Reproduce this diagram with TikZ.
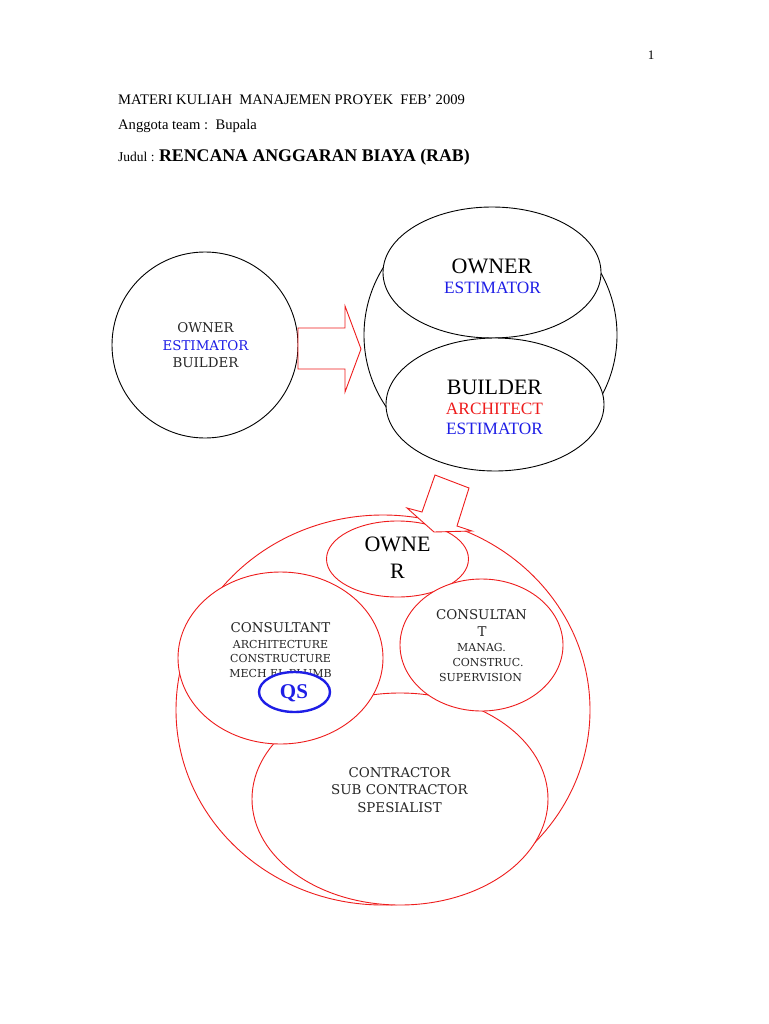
\documentclass[tikz,border=0pt]{standalone}
\usepackage{fontspec}
\setmainfont{Liberation Serif}
\newfontfamily\slab{DejaVu Serif}
\usetikzlibrary{shapes.geometric}
\definecolor{txtgray}{HTML}{262626}
\definecolor{myblue}{HTML}{1E1EE6}
\definecolor{myred}{HTML}{EE1C1C}
\begin{document}
\begin{tikzpicture}[x=1pt,y=-1pt,
  blk/.style={ellipse,draw=black,line width=0.9pt,fill=white,inner sep=0pt},
  blko/.style={ellipse,draw=black,line width=0.9pt,inner sep=0pt},
  rd/.style={ellipse,draw=myred,line width=0.9pt,fill=white,inner sep=0pt},
  rdo/.style={ellipse,draw=myred,line width=0.9pt,inner sep=0pt},
  qsell/.style={ellipse,draw=myblue,line width=2.4pt,fill=white,inner sep=0pt},
  blockarrow/.style={draw=myred,line width=0.9pt,fill=white,line join=miter},
  hdr/.style={anchor=base west,inner sep=0pt,font=\fontsize{14.6}{17}\selectfont},
  sl/.style={inner sep=0pt,anchor=center,text=txtgray,font=\slab\fontsize{13.4}{16}\selectfont},
  sls/.style={inner sep=0pt,anchor=center,text=txtgray,font=\slab\fontsize{11}{13}\selectfont},
  tbig/.style={inner sep=0pt,anchor=center,font=\fontsize{22}{26}\selectfont},
  tmid/.style={inner sep=0pt,anchor=center,font=\fontsize{17.3}{20}\selectfont}
]
\useasboundingbox[fill=white] (0,0) rectangle (768,1024);

% page number and header
\node[anchor=base,inner sep=0pt,font=\fontsize{13}{15}\selectfont] (pg) at (651,60) {1};
\node[hdr] (h1) at (118,105) {MATERI KULIAH~~MANAJEMEN PROYEK~~FEB’ 2009};
\node[hdr] (h2) at (118,129.5) {Anggota team~:~~Bupala};
\node[hdr,font=\fontsize{13.5}{16}\selectfont] (h3) at (118,161.5) {Judul : {\bfseries\fontsize{17.8}{20}\selectfont RENCANA ANGGARAN BIAYA (RAB)}};

% left circle
\node[blko,minimum width=186pt,minimum height=186pt] (c1) at (205,345) {};
\node[sl] (c1a) at (205.5,328) {OWNER};
\node[sl,text=myblue] (c1b) at (205.5,346) {ESTIMATOR};
\node[sl] (c1c) at (205.5,363) {BUILDER};

% right arrow
\draw[blockarrow] (298,328) -- (345,328) -- (345,306) -- (361,349) -- (345,392) -- (345,369) -- (298,369) -- cycle;

% top-right group
\node[blko,minimum width=253pt,minimum height=254pt] (g2) at (490.5,335) {};
\node[blk,minimum width=218pt,minimum height=131pt] (ow2) at (492,272.5) {};
\node[blk,minimum width=218pt,minimum height=133pt] (bu2) at (495,404.5) {};
\node[tbig] (ow2a) at (492,266) {OWNER};
\node[tmid,text=myblue] (ow2b) at (492.5,288) {ESTIMATOR};
\node[tbig] (bu2a) at (494.5,387) {BUILDER};
\node[tmid,text=myred] (bu2b) at (494.5,409) {ARCHITECT};
\node[tmid,text=myblue] (bu2c) at (494.5,429) {ESTIMATOR};

% lower group
\node[rdo,minimum width=414pt,minimum height=390pt] (g3) at (383,710) {};
\node[rd,minimum width=296pt,minimum height=212pt] (ctr) at (400,799) {};
\node[sl] (ctra) at (399.5,773) {CONTRACTOR};
\node[sl] (ctrb) at (399.5,790) {SUB CONTRACTOR};
\node[sl] (ctrc) at (399.5,808) {SPESIALIST};

\node[rd,minimum width=142pt,minimum height=76pt] (ow3) at (397.5,559) {};
\node[tbig] (ow3a) at (397.5,544) {OWNE};
\node[tbig] (ow3b) at (397.5,571) {R};

\node[rd,minimum width=163pt,minimum height=132pt] (cr) at (481.5,645) {};
\node[sl] (cra) at (481.5,615) {CONSULTAN};
\node[sl] (crb) at (482,632) {T};
\node[sls] (crc) at (481.5,647) {MANAG.};
\node[sls] (crd) at (488,662) {CONSTRUC.};
\node[sls] (cre) at (480.5,677) {SUPERVISION};

\node[rd,minimum width=205pt,minimum height=172pt] (cl) at (280.5,658) {};
\node[sl] (cla) at (280.5,628) {CONSULTANT};
\node[sls] (clb) at (280.5,644) {ARCHITECTURE};
\node[sls] (clc) at (280.5,658) {CONSTRUCTURE};
\node[sls] (cld) at (280.5,673) {MECH EL.PLUMB};
\node[qsell,minimum width=71pt,minimum height=40pt] (qs) at (294.5,692) {};
\node[inner sep=0pt,text=myblue,font=\bfseries\fontsize{21}{24}\selectfont] (qsa) at (294,693) {QS};

% down arrow
\draw[blockarrow] (435,475) -- (469,488) -- (457,526) -- (472,531) -- (434,532) -- (407,508) -- (422,512) -- cycle;
\end{tikzpicture}
\end{document}
